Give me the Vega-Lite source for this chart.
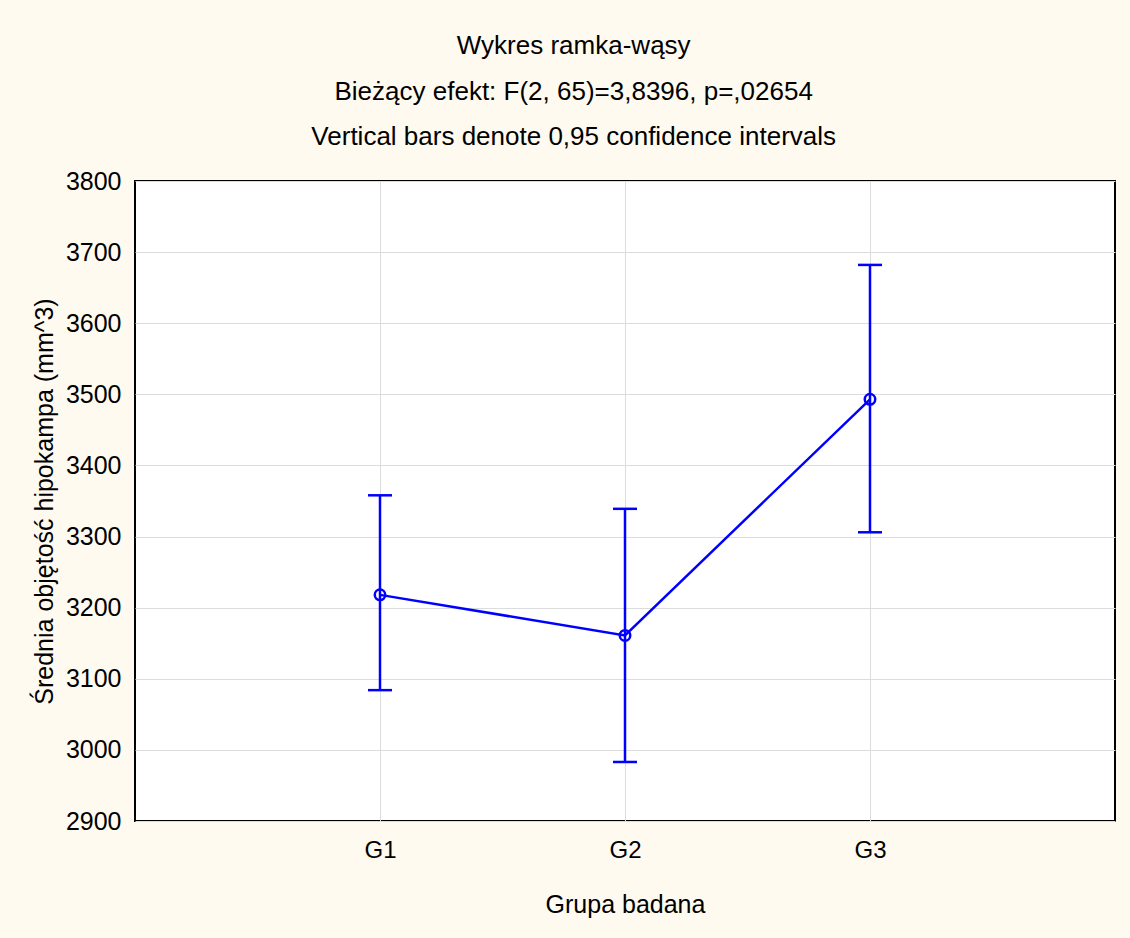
{
  "$schema": "https://vega.github.io/schema/vega-lite/v6.json",
  "autosize": {"type": "none"},
  "padding": {"left": 135, "top": 181, "right": 15, "bottom": 117},
  "width": 980,
  "height": 640,
  "background": "#fffaf0",
  "config": {
    "font": "Liberation Sans",
    "view": {"fill": "white", "stroke": "black", "strokeWidth": 2},
    "axis": {
      "domain": false,
      "ticks": false,
      "grid": true,
      "gridColor": "#dcdcdc",
      "gridWidth": 1,
      "labelFont": "Liberation Sans",
      "labelFontSize": 24,
      "labelColor": "black",
      "titleFont": "Liberation Sans",
      "titleFontSize": 25,
      "titleFontWeight": "normal",
      "titleColor": "black"
    }
  },
  "title": {
    "text": ["Wykres ramka-wąsy", "Bieżący efekt: F(2, 65)=3,8396, p=,02654", "Vertical bars denote 0,95 confidence intervals"],
    "font": "Liberation Sans",
    "fontSize": 26,
    "fontWeight": "normal",
    "color": "black",
    "lineHeight": 45.5,
    "anchor": "middle",
    "frame": "bounds",
    "offset": 19
  },
  "data": {
    "values": [
      {"group": "G1", "mean": 3218, "lo": 3084, "hi": 3358},
      {"group": "G2", "mean": 3161, "lo": 2983, "hi": 3339},
      {"group": "G3", "mean": 3493, "lo": 3306, "hi": 3682}
    ]
  },
  "encoding": {
    "x": {
      "field": "group",
      "type": "nominal",
      "scale": {"type": "point", "padding": 1},
      "axis": {"title": "Grupa badana", "labelAngle": 0, "labelPadding": 17, "titlePadding": 30}
    }
  },
  "layer": [
    {
      "mark": {"type": "rule", "color": "#0000ff", "strokeWidth": 2.5},
      "encoding": {
        "y": {
          "field": "lo",
          "type": "quantitative",
          "scale": {"domain": [2900, 3800], "nice": false, "zero": false},
          "axis": {
            "title": "Średnia objętość hipokampa (mm^3)",
            "values": [2900, 3000, 3100, 3200, 3300, 3400, 3500, 3600, 3700, 3800],
            "format": "d",
            "labelFontSize": 25,
            "labelPadding": 14,
            "titlePadding": 8
          }
        },
        "y2": {"field": "hi"}
      }
    },
    {
      "mark": {"type": "tick", "color": "#0000ff", "size": 24, "thickness": 2.5, "opacity": 1},
      "encoding": {"y": {"field": "lo", "type": "quantitative"}}
    },
    {
      "mark": {"type": "tick", "color": "#0000ff", "size": 24, "thickness": 2.5, "opacity": 1},
      "encoding": {"y": {"field": "hi", "type": "quantitative"}}
    },
    {
      "mark": {"type": "line", "color": "#0000ff", "strokeWidth": 2.5},
      "encoding": {"y": {"field": "mean", "type": "quantitative"}}
    },
    {
      "mark": {"type": "point", "shape": "circle", "filled": false, "color": "#0000ff", "strokeWidth": 2.5, "size": 110, "opacity": 1},
      "encoding": {"y": {"field": "mean", "type": "quantitative"}}
    }
  ]
}
